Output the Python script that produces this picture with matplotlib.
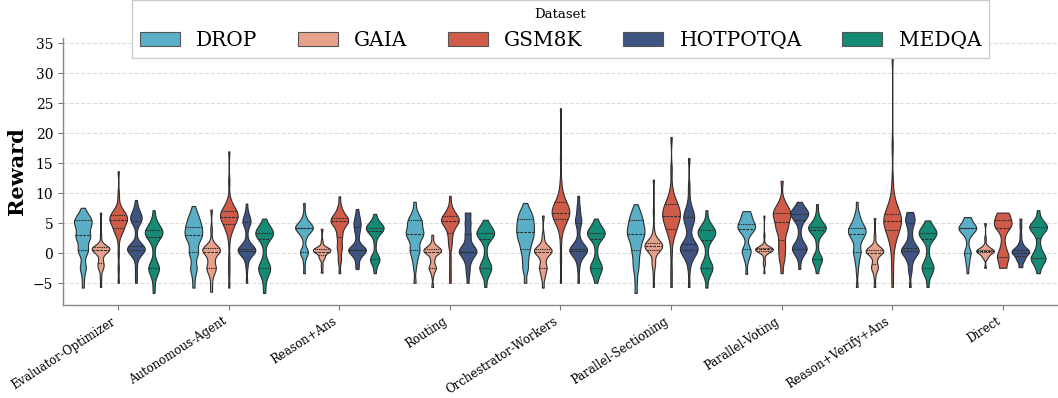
import numpy as np
import pandas as pd
import matplotlib
matplotlib.use("Agg")
import matplotlib.pyplot as plt
from matplotlib.patches import Patch
import seaborn as sns

plt.rcParams["font.family"] = ["DejaVu Serif"]

workflows = ["Evaluator-Optimizer", "Autonomous-Agent", "Reason+Ans", "Routing",
             "Orchestrator-Workers", "Parallel-Sectioning", "Parallel-Voting",
             "Reason+Verify+Ans", "Direct"]
datasets = ["DROP", "GAIA", "GSM8K", "HOTPOTQA", "MEDQA"]
colors = ["#5aafc7", "#e8a28b", "#d05b48", "#3e5482", "#158a74"]

# reward samples, one {reward: count} per workflow
drop_rewards = [
    {7.6: 1, 6.5: 3, 5.5: 6, 4.5: 5, 3.0: 6, 2.0: 3, 0.5: 5, -1: 1, -2.4: 3, -4: 1, -5.7: 1},
    {7.9: 1, 6.5: 3, 5.3: 4, 4.2: 5, 3.0: 6, 1.8: 3, 0.2: 4, -1: 1, -2.5: 3, -4: 1, -5.7: 1},
    {8.4: 1, 6.5: 1, 5.3: 3, 4.3: 9, 3.3: 3, 2: 1, 0.2: 5, -1.5: 1, -3.3: 1},
    {8.6: 1, 6.8: 2, 5.5: 5, 4.3: 4, 3.2: 6, 2: 3, 0.5: 4, -1: 2, -2.5: 1, -4.9: 1},
    {8.4: 1, 7: 3, 5.8: 4, 4.6: 4, 3.5: 4, 2.3: 4, 0.8: 3, -0.8: 2, -2.5: 2, -4.9: 1},
    {8.2: 1, 6.8: 3, 5.5: 4, 4.3: 4, 3.2: 5, 2: 3, 0.6: 3, -1: 2, -2.5: 2, -4.5: 1, -6.6: 1},
    {7.05: 3, 6: 4, 4.9: 6, 4: 6, 3: 2, 1.5: 1, 0.5: 4, -0.5: 2, -1.5: 1, -3.4: 1},
    {8.6: 1, 6.5: 2, 5.3: 3, 4.2: 6, 3.2: 6, 2: 3, 0.3: 4, -1.3: 2, -3: 1, -5.6: 1},
    {6.05: 3, 5: 3, 4.2: 8, 3.3: 3, 1.8: 1, 0.1: 4, -1.5: 2, -3.3: 1},
]
gaia_rewards = [
    {6.8: 1, 3: 1, 1.0: 8, 0.5: 7, -0.5: 2, -1.6: 3, -2.4: 3, -4: 1, -5.6: 1},
    {7.3: 1, 4: 1, 2: 1, 0.9: 6, 0.3: 6, -1: 3, -2.4: 5, -3.5: 2, -5: 1, -6.4: 1},
    {4.1: 1, 2: 1, 0.8: 6, 0.3: 6, -0.7: 3, -2: 1, -3.2: 1},
    {3.1: 1, 1.8: 1, 0.8: 5, 0.3: 6, -1: 2, -2.4: 4, -3.6: 1, -5.6: 1},
    {6.3: 1, 3: 1, 1.8: 1, 0.8: 5, 0.2: 6, -1: 2, -2.4: 4, -3.8: 2, -5.7: 1},
    {12.3: 1, 7: 1, 4: 1, 2.5: 2, 1.7: 6, 1.2: 7, 0.5: 5, -1.6: 3, -3.5: 1, -5.6: 1},
    {6.3: 1, 3: 1, 1.5: 1, 0.9: 6, 0.7: 6, 0.4: 6, -0.5: 1, -1.6: 2, -3.3: 1},
    {5.9: 1, 3: 1, 1.5: 1, 0.6: 7, 0.1: 5, -1.2: 2, -2.4: 4, -3.8: 1, -5.6: 1},
    {5.05: 1, 2.5: 1, 1.2: 2, 0.6: 6, 0.2: 6, -0.6: 3, -2.4: 1},
]
gsm8k_rewards = [
    {13.7: 1, 10: 1, 8.5: 1, 7.2: 4, 6.4: 6, 5.6: 8, 4.7: 5, 3.6: 5, 2: 1, 0: 1, -2.5: 1, -4.9: 1},
    {17: 1, 12: 1, 9: 1, 8: 3, 7.0: 6, 6.1: 8, 5.2: 4, 4: 4, 2: 1, -1: 1, -3: 1, -5.7: 1},
    {9.5: 1, 7.5: 2, 6.3: 4, 5.4: 8, 4.3: 3, 3: 2, 2.5: 1, 1: 3, -1: 2, -3.3: 1},
    {9.6: 1, 7.5: 2, 6.3: 5, 5.4: 8, 4.3: 3, 3: 2, 1.5: 2, -1: 1, -3: 1, -4.9: 1},
    {24.2: 1, 16: 1, 12: 1, 10: 2, 8.5: 4, 7.5: 5, 6.7: 7, 5.7: 4, 4.5: 3, 2: 1, -1: 1, -4.9: 1},
    {19.4: 1, 14: 1, 11: 1, 9.5: 2, 8.3: 4, 7.3: 5, 6.2: 6, 5.2: 4, 4: 4, 2.5: 2, 0: 1, -3: 1, -5.6: 1},
    {12.1: 1, 9: 1, 7.8: 3, 6.7: 5, 5.8: 3, 4.5: 4, 3.3: 2, 1.8: 2, 0.5: 2, -1: 2, -3.3: 1},
    {33: 1, 18: 1, 12: 1, 9: 2, 7.5: 3, 6.3: 5, 5.4: 7, 4.3: 4, 3: 3, 1.5: 2, -1: 1, -3: 1, -5.6: 1},
    {6.8: 4, 5.8: 3, 4.8: 6, 3.8: 2, 2.2: 1, 0.8: 2, -0.6: 5, -2.4: 3},
]
hotpotqa_rewards = [
    {8.9: 1, 7.5: 2, 6.3: 5, 5.4: 5, 3.3: 1, 1.2: 5, 0.6: 9, -0.5: 2, -2: 1, -3.5: 1, -4.9: 1},
    {8.3: 1, 6.5: 2, 5.3: 5, 4: 1, 2.5: 1, 1.2: 4, 0.4: 10, -1: 2, -2.5: 1, -4.9: 1},
    {7.4: 1, 6: 2, 4.8: 3, 3.5: 2, 2: 1, 0.6: 9, -0.5: 2, -1.8: 1, -2.6: 1},
    {6.8: 3, 5: 3, 3.2: 3, 1.5: 3, 0.3: 9, -1.2: 3, -3: 2, -4.9: 1},
    {9.6: 1, 7.5: 2, 5.5: 4, 4: 1, 2.5: 1, 1.2: 4, 0.4: 9, -1: 2, -2.5: 1, -4.9: 1},
    {15.9: 1, 11: 1, 8.5: 1, 7.2: 2, 6: 5, 4.8: 2, 3.2: 1, 1.5: 4, 0.6: 8, -0.8: 2, -2.5: 1, -5.6: 1},
    {8.6: 1, 7.5: 3, 6.6: 7, 5.5: 3, 3.8: 1, 2: 2, 0.8: 7, -0.5: 2, -2.6: 1},
    {6.9: 3, 5.5: 5, 4: 2, 2.5: 2, 1.3: 3, 0.4: 9, -1: 3, -2.8: 2, -5.6: 1},
    {5.8: 1, 4.5: 1, 3: 1, 1.6: 2, 0.6: 6, 0: 6, -1: 4, -2.3: 2},
]
medqa_rewards = [
    {7.2: 1, 5.5: 2, 4.2: 5, 3.3: 7, 2.3: 3, 0.5: 1, -1.5: 2, -2.5: 5, -3.5: 2, -5: 1, -6.6: 1},
    {5.8: 1, 4.5: 3, 3.4: 7, 2.4: 3, 0.5: 1, -1.3: 2, -2.5: 5, -3.6: 2, -5: 1, -6.6: 1},
    {6.6: 1, 5.3: 2, 4.3: 8, 3.3: 3, 1.5: 1, -0.9: 5, -2: 1, -3.3: 1},
    {5.6: 1, 4.5: 3, 3.4: 7, 2.4: 3, 0.5: 1, -1.3: 2, -2.4: 5, -3.6: 2, -5.6: 1},
    {5.8: 1, 4.5: 3, 3.4: 7, 2.4: 3, 0.5: 1, -1.3: 2, -2.4: 5, -3.6: 2, -4.9: 1},
    {7.2: 1, 5: 2, 4: 4, 3.3: 5, 2.3: 3, 0.5: 1, -1.3: 2, -2.4: 5, -3.6: 2, -5.7: 1},
    {8.2: 1, 6: 2, 4.4: 8, 3.4: 3, 1.5: 1, -0.9: 5, -2: 1, -3.3: 1},
    {5.5: 1, 4.5: 3, 3.4: 7, 2.4: 3, 0.5: 1, -1.3: 2, -2.4: 5, -3.6: 2, -5.6: 1},
    {7.2: 1, 5.5: 2, 4.4: 7, 3.3: 2, 1.8: 1, 0.5: 2, -0.8: 6, -2: 2, -3.3: 1},
]

all_rewards = [drop_rewards, gaia_rewards, gsm8k_rewards, hotpotqa_rewards, medqa_rewards]

rows = []
for ds, groups in zip(datasets, all_rewards):
    for wf, g in zip(workflows, groups):
        for v, c in g.items():
            rows += [(wf, ds, v)] * c
df = pd.DataFrame(rows, columns=["Workflow", "Dataset", "Reward"])

fig = plt.figure(figsize=(10.58, 3.98), dpi=100)
ax = fig.add_axes([0.0595, 0.2337, 0.9405, 0.6708])

ax.yaxis.grid(True, linestyle="--", color="#dddddd", linewidth=0.8)
ax.set_axisbelow(True)

sns.violinplot(data=df, x="Workflow", y="Reward", hue="Dataset",
               order=workflows, hue_order=datasets, palette=colors,
               inner="quart", cut=0, density_norm="width", bw_adjust=0.5,
               linewidth=0.8, linecolor="#2e2e2e", saturation=1, width=0.8,
               legend=False, ax=ax)

ax.set_xlim(-0.5, 8.5)
ax.set_ylim(-8.6, 35.9)
ax.set_yticks(range(-5, 36, 5))
ax.set_xlabel("")
ax.set_ylabel("Reward", fontsize=15, fontweight="bold")
ax.tick_params(axis="y", labelsize=10, color="#777777")
ax.tick_params(axis="x", labelsize=8.5, color="#777777")
plt.setp(ax.get_xticklabels(), rotation=33, ha="right")

for s in ["top", "right"]:
    ax.spines[s].set_visible(False)
for s in ["left", "bottom"]:
    ax.spines[s].set_color("#888888")
    ax.spines[s].set_linewidth(1.0)

handles = [Patch(facecolor=c, edgecolor="#555555", linewidth=0.8) for c in colors]
leg = ax.legend(handles, datasets, title="Dataset", ncol=5, loc="upper center",
                bbox_to_anchor=(0.5297, 1.0), bbox_transform=fig.transFigure,
                borderaxespad=0, fontsize=14.5, title_fontsize=9.5,
                frameon=True, fancybox=False, framealpha=1, edgecolor="#cccccc")

fig.savefig("out.png", dpi=100)
